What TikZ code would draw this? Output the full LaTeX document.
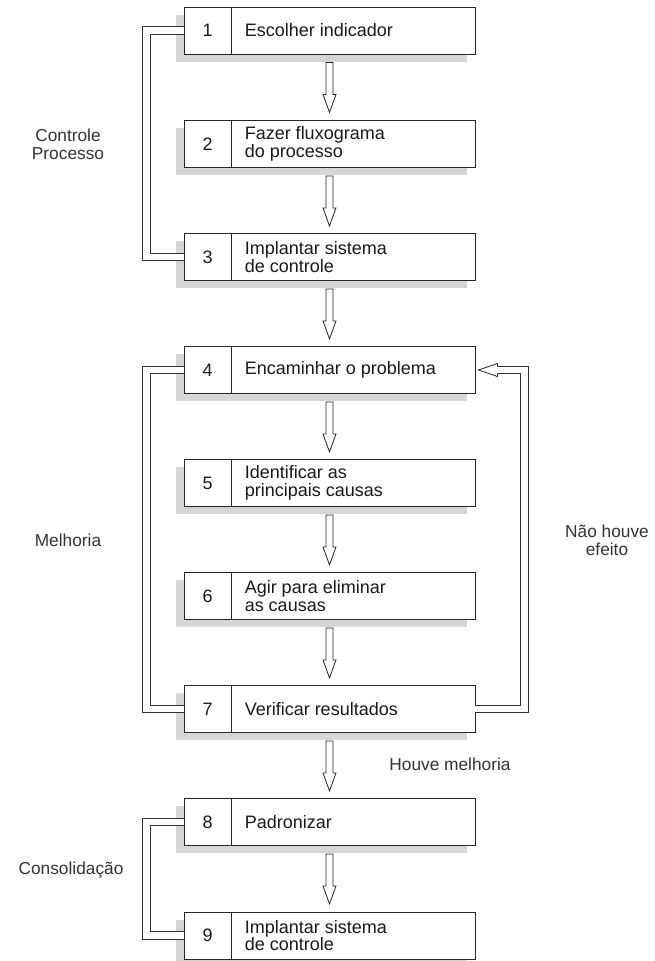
\documentclass[tikz,border=0pt]{standalone}
\usepackage{fontspec}
\setmainfont{Liberation Sans}
\usetikzlibrary{shadows,calc}
\begin{document}
\begin{tikzpicture}[x=1pt,y=-1pt,
  box/.style={draw=black!85, line width=0.9pt, fill=white, minimum width=291pt,
    minimum height=47pt, inner sep=0pt,
    drop shadow={shadow xshift=-8pt, shadow yshift=-7.5pt, fill=black!16, draw=none, opacity=1}},
  boxline/.style={draw=black!85, line width=0.9pt},
  txt/.style={font=\fontsize{18}{17.5}\selectfont, text=black!90, inner sep=0pt, align=left},
  lab/.style={font=\fontsize{17.3}{18}\selectfont, text=black!80, inner sep=0pt, align=center},
  arrowline/.style={draw=black!85, line width=0.8pt, fill=white},
  dbl/.style={draw=black!80, line width=0.9pt, double=white, double distance=6.5pt},
  blockdown/.pic={\draw[arrowline] (-3.5,0) -- (3.5,0) -- (3.5,32) -- (6.5,32) -- (0,50)
      -- (-6.5,32) -- (-3.5,32) -- cycle;}
]
\useasboundingbox (0,0) rectangle (655,961);

\foreach \i/\y/\t in {1/30.5/{Escolher indicador},
                      2/144/{Fazer fluxograma\\do processo},
                      3/257/{Implantar sistema\\de controle},
                      4/370/{Encaminhar o problema},
                      5/483/{Identificar as\\principais causas},
                      6/596/{Agir para eliminar\\as causas},
                      7/709/{Verificar resultados},
                      8/822/{Padronizar},
                      9/935.5/{Implantar sistema\\de controle}}{
  \node[box] (b\i) at (329.5,\y) {};
  \draw[boxline] ($(b\i.north west)+(48,0)$) -- ($(b\i.south west)+(48,0)$);
  \node[txt] (n\i) at ($(b\i.west)+(24,0)$) {\i};
  \node[txt, anchor=west] (t\i) at ($(b\i.west)+(61,0)$) {\t};
}

% block arrows
\foreach \a/\b in {1/2,2/3,3/4,4/5,5/6,6/7,7/8,8/9}{
  \pic at ($(b\a.south)+(0,8)$) {blockdown};
}

% left loops
\draw[dbl] (b1.west) -- ++(-37,0) |- (b3.west);
\draw[dbl] (b4.west) -- ++(-37,0) |- (b7.west);
\draw[dbl] (b8.west) -- ++(-37,0) |- (b9.west);

% right feedback loop
\coordinate (h) at ($(b4.east)+(3,0)$);
\draw[dbl] (b7.east) -- ++(49,0) |- ($(h)+(19,0)$);
\draw[arrowline] ($(h)+(19,-3.6)$) -- ($(h)+(19,-6.5)$) -- (h) -- ($(h)+(19,6.5)$) -- ($(h)+(19,3.6)$);

% labels
\node[lab] (lc) at (68,144) {Controle\\Processo};
\node[lab] (lm) at (68,540) {Melhoria};
\node[lab] (ln) at (607,540) {Não houve\\efeito};
\node[lab] (lh) at (450,764) {Houve melhoria};
\node[lab] (lo) at (71,870) {Consolidação};
\end{tikzpicture}
\end{document}
